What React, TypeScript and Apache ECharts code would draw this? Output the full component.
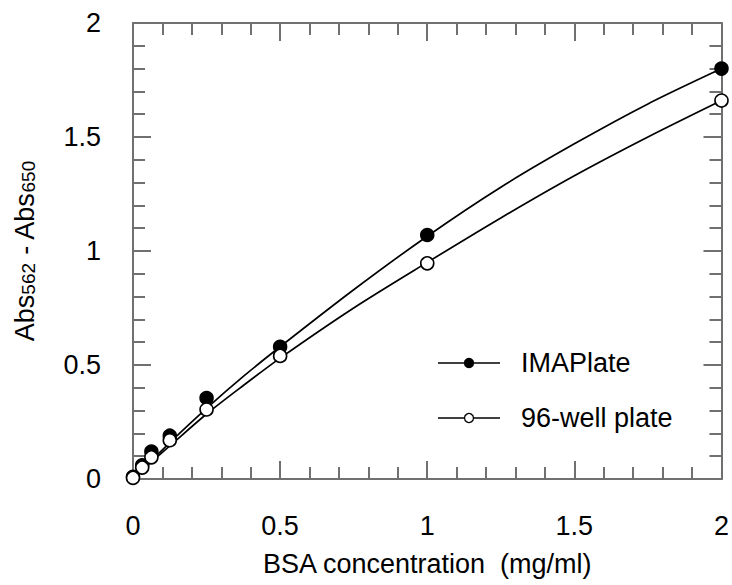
import React, { useEffect, useRef } from "react";
import * as echarts from "echarts";

const seriesNames = ["IMAPlate", "96-well plate"];
const concentrations = [0, 0.03125, 0.0625, 0.125, 0.25, 0.5, 1, 2];
const imaplateValues = [0.01, 0.06, 0.12, 0.19, 0.355, 0.58, 1.07, 1.8];
const wellValues = [0.005, 0.05, 0.095, 0.17, 0.305, 0.54, 0.946, 1.66];

// fitted curves
const fitX = [0, 0.0625, 0.125, 0.25, 0.375, 0.5, 0.75, 1, 1.25, 1.5, 1.75, 2];
const imaplateFit = [0.005, 0.08, 0.16, 0.31, 0.45, 0.58, 0.83, 1.065, 1.28, 1.47, 1.645, 1.8];
const wellFit = [0.005, 0.075, 0.145, 0.285, 0.41, 0.53, 0.75, 0.95, 1.145, 1.33, 1.5, 1.66];

const xTitle = "BSA concentration  (mg/ml)";

export default function App() {
  const ref = useRef<HTMLDivElement>(null);
  useEffect(() => {
    const chart = echarts.init(ref.current!, null, { renderer: "svg" });
    const axisColor = "#707070";
    const font = "'Liberation Sans', Arial, Helvetica, sans-serif";
    const fs = 27;
    const common = {
      type: "value",
      min: 0,
      max: 2,
      interval: 0.5,
      axisLine: { show: true, onZero: false, lineStyle: { color: axisColor, width: 2 } },
      axisTick: { show: true, inside: true, length: 18, lineStyle: { color: axisColor, width: 2 } },
      minorTick: { show: true, splitNumber: 5, length: 12, lineStyle: { color: axisColor, width: 2 } },
      splitLine: { show: false },
      minorSplitLine: { show: false },
    };
    const label = { fontSize: fs, color: "#000", fontFamily: font };
    const pairs = (xs: number[], ys: number[]) => xs.map((x, i) => [x, ys[i]]);
    const legendRows = [363, 418];
    const legendFills = ["#000", "#fff"];
    const graphic: any[] = [];
    seriesNames.forEach((n, i) => {
      const y = legendRows[i];
      graphic.push({ type: "line", shape: { x1: 438, y1: y, x2: 500, y2: y }, style: { stroke: "#000", lineWidth: 1.6 }, z: 10 });
      graphic.push({ type: "circle", shape: { cx: 469, cy: y, r: 4.5 }, style: { fill: legendFills[i], stroke: "#000", lineWidth: 1.3 }, z: 11 });
      graphic.push({ type: "text", x: 521, y, style: { text: n, fontSize: fs, fill: "#000", fontFamily: font, verticalAlign: "middle", align: "left" }, z: 10 });
    });
    chart.setOption({
      animation: false,
      backgroundColor: "#fff",
      grid: { left: 133, top: 23, right: 8, bottom: 106, containLabel: false },
      xAxis: [
        {
          ...common,
          position: "bottom",
          axisLabel: { ...label, margin: 33 },
          name: xTitle,
          nameLocation: "middle",
          nameGap: 71,
          nameTextStyle: { fontSize: fs, color: "#000", fontFamily: font },
        },
        { ...common, position: "top", axisLabel: { show: false } },
      ],
      yAxis: [
        {
          ...common,
          position: "left",
          axisLabel: { ...label, margin: 32 },
          name: "{a|Abs}{s|562}{a| - Abs}{s|650}",
          nameLocation: "middle",
          nameGap: 95,
          nameRotate: 90,
          nameTextStyle: {
            color: "#000",
            fontFamily: font,
            rich: {
              a: { fontSize: fs, color: "#000", fontFamily: font, verticalAlign: "bottom", lineHeight: 29 },
              s: { fontSize: 19, color: "#000", fontFamily: font, verticalAlign: "bottom", lineHeight: 29 },
            },
          },
        },
        { ...common, position: "right", axisLabel: { show: false } },
      ],
      series: [
        {
          type: "line",
          data: pairs(fitX, imaplateFit),
          smooth: 0.3,
          showSymbol: false,
          symbol: "none",
          lineStyle: { color: "#000", width: 1.7 },
          z: 2,
          silent: true,
        },
        {
          type: "line",
          data: pairs(fitX, wellFit),
          smooth: 0.3,
          showSymbol: false,
          symbol: "none",
          lineStyle: { color: "#000", width: 1.7 },
          z: 2,
          silent: true,
        },
        {
          name: seriesNames[0],
          type: "scatter",
          data: pairs(concentrations, imaplateValues),
          symbol: "circle",
          symbolSize: 13,
          itemStyle: { color: "#000", borderColor: "#000", borderWidth: 1.5, opacity: 1 },
          z: 3,
        },
        {
          name: seriesNames[1],
          type: "scatter",
          data: pairs(concentrations, wellValues),
          symbol: "circle",
          symbolSize: 13,
          itemStyle: { color: "#fff", borderColor: "#000", borderWidth: 1.6, opacity: 1 },
          z: 4,
        },
      ],
      graphic,
    });
    return () => chart.dispose();
  }, []);
  return <div ref={ref} style={{ position: "fixed", left: 0, top: 0, width: 732, height: 585 }} />;
}
